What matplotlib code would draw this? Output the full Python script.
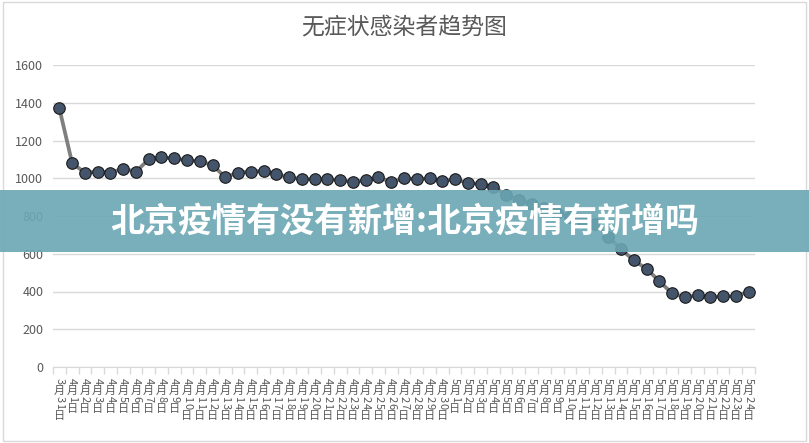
import matplotlib
matplotlib.use("Agg")
import matplotlib.pyplot as plt
import matplotlib.patches as mpatches
import numpy as np

plt.rcParams['font.family'] = ['Noto Sans CJK SC', 'DejaVu Sans']

# dates (month, day) and asymptomatic counts
months = [3] + [4] * 30 + [5] * 24
days = [31] + list(range(1, 31)) + list(range(1, 25))
values = [1370, 1080, 1030, 1035, 1030, 1050, 1035, 1100, 1110, 1105,
          1095, 1090, 1070, 1005, 1030, 1035, 1040, 1020, 1005, 995,
          995, 995, 990, 980, 990, 1005, 980, 1000, 995, 1000,
          985, 995, 975, 970, 955, 910, 885, 865, 840, 815,
          795, 775, 755, 690, 625, 565, 520, 455, 390, 370,
          380, 370, 375, 375, 400]
labels = [f"{m}月{d}日" for m, d in zip(months, days)]
yticks = [0, 200, 400, 600, 800, 1000, 1200, 1400, 1600]

title = "无症状感染者趋势图"
banner = "北京疫情有没有新增:北京疫情有新增吗"

GRID = '#D9D9D9'
TXT = '#595959'

fig = plt.figure(figsize=(8.09, 4.43), dpi=100)
ax = fig.add_axes([53 / 809, 1 - 367 / 443, 702 / 809, 302 / 443])

x = np.arange(len(values))
ax.plot(x, values, color='#7F7F7F', lw=2.7, marker='o', markersize=8.3,
        markerfacecolor='#44546A', markeredgecolor='#1a1a1a', markeredgewidth=0.8,
        zorder=3)

ax.set_xlim(-0.5, len(values) - 0.5)
ax.set_ylim(0, 1600)
ax.set_yticks(yticks)
ax.set_yticklabels([str(v) for v in yticks], fontsize=9, color=TXT)
ax.tick_params(axis='y', length=0, pad=7)
ax.yaxis.grid(True, color=GRID, lw=1)
ax.set_axisbelow(True)

# excel style ticks between categories
ax.set_xticks([])
ax.set_xticks(np.arange(-0.5, len(values)), minor=True)
ax.tick_params(axis='x', which='minor', length=5, color=GRID, width=1)
ax.tick_params(axis='x', which='major', length=0)

for s in ['top', 'right', 'left']:
    ax.spines[s].set_visible(False)
ax.spines['bottom'].set_color(GRID)

# stacked vertical labels: digits rotated, CJK upright
fs = 8
for i, lab in enumerate(labels):
    off = 8.0
    for ch in lab:
        if ch.isdigit():
            step = 4.7
            ax.annotate(ch, xy=(i, 0), xycoords=('data', 'axes fraction'),
                        xytext=(0, -(off + step / 2)), textcoords='offset points',
                        rotation=-90, ha='center', va='center',
                        fontsize=fs, color=TXT)
        else:
            step = 8.3
            ax.annotate(ch, xy=(i, 0), xycoords=('data', 'axes fraction'),
                        xytext=(0, -(off + 0.86 * fs)), textcoords='offset points',
                        ha='center', va='baseline', fontsize=fs, color=TXT)
        off += step

fig.text(0.5, 1 - 27 / 443, title, ha='center', va='center', fontsize=16.5, color=TXT)

# outer chart border
fig.patches.append(mpatches.Rectangle((3 / 809, 2 / 443), 803 / 809, 439 / 443,
                                      transform=fig.transFigure, fill=False,
                                      edgecolor=GRID, lw=1))

# overlay banner
fig.patches.append(mpatches.Rectangle((0, 1 - 252 / 443), 1, 62 / 443,
                                      transform=fig.transFigure, facecolor='#6BA7B3',
                                      alpha=0.9, edgecolor='none', zorder=5))
fig.text(0.5, 1 - 221 / 443, banner, ha='center', va='center', fontsize=24.5,
         fontweight='black', color='white', zorder=6)

fig.savefig("out.png", dpi=100)
